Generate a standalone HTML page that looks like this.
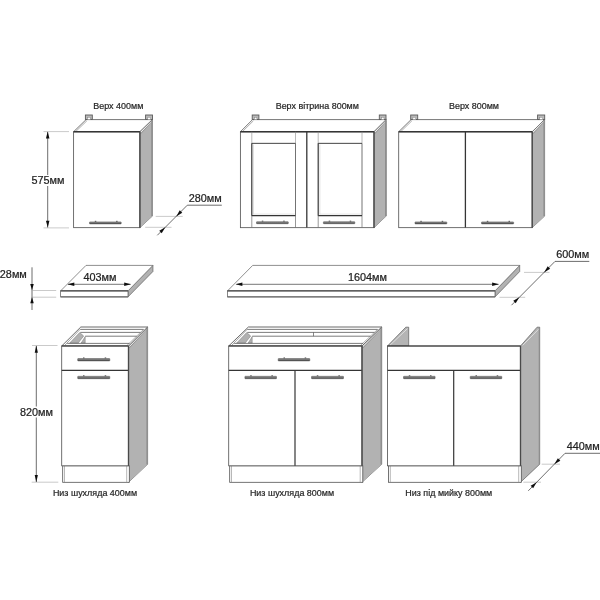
<!DOCTYPE html>
<html lang="uk">
<head>
<meta charset="utf-8">
<title>Кухня — розміри модулів</title>
<style>
html,body{margin:0;padding:0;background:#fff;}
body{width:600px;height:600px;overflow:hidden;}
svg{display:block;}
svg text{font-family:"Liberation Sans",sans-serif;}
</style>
</head>
<body>
<svg width="600" height="600" viewBox="0 0 600 600">
<defs>
<linearGradient id="gh" x1="0" y1="0" x2="0" y2="1">
<stop offset="0" stop-color="#9a9a9a"/><stop offset="0.55" stop-color="#6c6c6c"/><stop offset="1" stop-color="#4a4a4a"/>
</linearGradient>
<filter id="soft" x="0" y="0" width="600" height="600" filterUnits="userSpaceOnUse"><feGaussianBlur stdDeviation="0.36"/></filter>
</defs>
<rect x="0" y="0" width="600" height="600" fill="#fff"/>
<g filter="url(#soft)">
<rect x="0" y="0" width="600" height="600" fill="#fff"/>
<polygon points="73.6,131.75 86.1,119.6 152.4,119.6 139.9,131.75" fill="#fff" stroke="#525252" stroke-width="0.8" stroke-linejoin="round"/>
<line x1="75.5" y1="131.75" x2="86.9" y2="120.8" stroke="#777" stroke-width="0.6"/>
<polygon points="139.9,131.75 152.4,119.6 152.4,216 139.9,227.65" fill="#ececec" stroke="#6a6a6a" stroke-width="0.8" stroke-linejoin="round"/>
<polygon points="139.9,133.85 152.4,121.7 152.4,216 139.9,227.65" fill="#b2b2b2" />
<line x1="140.5" y1="133.85" x2="151.9" y2="121.7" stroke="#808080" stroke-width="0.7"/>
<line x1="151.95" y1="120.6" x2="151.95" y2="216.3" stroke="#8e8e8e" stroke-width="1.5"/>
<rect x="73.6" y="131.75" width="66.3" height="95.9" fill="#fff" stroke="#585858" stroke-width="0.85"/>
<line x1="73.6" y1="131.75" x2="139.9" y2="131.75" stroke="#353535" stroke-width="1.5"/>
<line x1="139.9" y1="131.75" x2="139.9" y2="227.65" stroke="#484848" stroke-width="1.35"/>
<rect x="85.4" y="115" width="6.9" height="4.5" fill="#b8b8b8" stroke="#5a5a5a" stroke-width="0.9"/>
<rect x="87.6" y="117.4" width="2.7" height="2.2" fill="#fff" stroke="#777" stroke-width="0.4"/>
<rect x="145.6" y="115" width="6.9" height="4.5" fill="#b8b8b8" stroke="#5a5a5a" stroke-width="0.9"/>
<rect x="147.8" y="117.4" width="2.7" height="2.2" fill="#fff" stroke="#777" stroke-width="0.4"/>
<rect x="89.5" y="221.9" width="31.7" height="2" rx="0.4" fill="url(#gh)" stroke="#4a4a4a" stroke-width="0.5"/>
<rect x="94.8" y="220.8" width="1.5" height="1.2" fill="#666"/>
<rect x="116.1" y="220.8" width="1.5" height="1.2" fill="#666"/>
<text x="118.3" y="108.5" font-size="9.6" text-anchor="middle" fill="#262626" stroke="#262626" stroke-width="0.22" textLength="50.02" lengthAdjust="spacingAndGlyphs">Верх 400мм</text>
<line x1="43.5" y1="131.6" x2="69" y2="131.6" stroke="#a6a6a6" stroke-width="0.6"/>
<line x1="43.5" y1="227.9" x2="69" y2="227.9" stroke="#a6a6a6" stroke-width="0.6"/>
<line x1="47.7" y1="132" x2="47.7" y2="175" stroke="#484848" stroke-width="0.8"/>
<line x1="47.7" y1="186" x2="47.7" y2="227.5" stroke="#484848" stroke-width="0.8"/>
<polygon points="47.7,131.6 49.45,138.4 45.95,138.4" fill="#111"/>
<polygon points="47.7,227.6 45.95,220.8 49.45,220.8" fill="#111"/>
<text x="48" y="184" font-size="10.85" text-anchor="middle" fill="#222" stroke="#222" stroke-width="0.22">575мм</text>
<line x1="155.7" y1="216.4" x2="182.7" y2="216.4" stroke="#a6a6a6" stroke-width="0.6"/>
<line x1="145.2" y1="227.3" x2="171.5" y2="227.3" stroke="#a6a6a6" stroke-width="0.6"/>
<line x1="157.3" y1="235.3" x2="187.3" y2="205.2" stroke="#484848" stroke-width="0.8"/>
<line x1="187.3" y1="205.2" x2="221.8" y2="205.2" stroke="#484848" stroke-width="0.8"/>
<polygon points="176.2,216.4 179.77,210.35 182.25,212.83" fill="#111"/>
<polygon points="165.3,227.3 161.73,233.35 159.25,230.87" fill="#111"/>
<text x="205.2" y="201.8" font-size="10.85" text-anchor="middle" fill="#222" stroke="#222" stroke-width="0.22">280мм</text>
<polygon points="240.4,131.75 252.6,119.6 386.2,119.6 374,131.75" fill="#fff" stroke="#525252" stroke-width="0.8" stroke-linejoin="round"/>
<line x1="242.3" y1="131.75" x2="253.4" y2="120.8" stroke="#777" stroke-width="0.6"/>
<polygon points="374,131.75 386.2,119.6 386.2,216 374,227.65" fill="#ececec" stroke="#6a6a6a" stroke-width="0.8" stroke-linejoin="round"/>
<polygon points="374,133.85 386.2,121.7 386.2,216 374,227.65" fill="#b2b2b2" />
<line x1="374.6" y1="133.85" x2="385.7" y2="121.7" stroke="#808080" stroke-width="0.7"/>
<line x1="385.75" y1="120.6" x2="385.75" y2="216.3" stroke="#8e8e8e" stroke-width="1.5"/>
<rect x="240.4" y="131.75" width="133.6" height="95.9" fill="#fff" stroke="#585858" stroke-width="0.85"/>
<line x1="240.4" y1="131.75" x2="374" y2="131.75" stroke="#353535" stroke-width="1.5"/>
<line x1="374" y1="131.75" x2="374" y2="227.65" stroke="#484848" stroke-width="1.35"/>
<rect x="252.2" y="115" width="6.7" height="4.5" fill="#b8b8b8" stroke="#5a5a5a" stroke-width="0.9"/>
<rect x="254.4" y="117.4" width="2.5" height="2.2" fill="#fff" stroke="#777" stroke-width="0.4"/>
<rect x="379.3" y="115" width="6.7" height="4.5" fill="#b8b8b8" stroke="#5a5a5a" stroke-width="0.9"/>
<rect x="381.5" y="117.4" width="2.5" height="2.2" fill="#fff" stroke="#777" stroke-width="0.4"/>
<line x1="251.8" y1="131.75" x2="251.8" y2="143.35" stroke="#8a8a8a" stroke-width="0.6"/>
<line x1="251.8" y1="215.7" x2="251.8" y2="227.5" stroke="#6a6a6a" stroke-width="0.7"/>
<line x1="295.5" y1="131.75" x2="295.5" y2="143.35" stroke="#8a8a8a" stroke-width="0.6"/>
<line x1="295.5" y1="215.7" x2="295.5" y2="227.5" stroke="#6a6a6a" stroke-width="0.7"/>
<line x1="295.5" y1="143.35" x2="295.5" y2="215.7" stroke="#5a5a5a" stroke-width="0.85"/>
<line x1="253.5" y1="144.55" x2="253.5" y2="214.5" stroke="#cccccc" stroke-width="0.6"/>
<line x1="253.5" y1="214.1" x2="294.7" y2="214.1" stroke="#d4d4d4" stroke-width="0.6"/>
<line x1="251.8" y1="143.35" x2="295.5" y2="143.35" stroke="#444" stroke-width="1.0"/>
<line x1="251.8" y1="215.7" x2="295.5" y2="215.7" stroke="#353535" stroke-width="1.2"/>
<line x1="251.8" y1="143.35" x2="251.8" y2="215.7" stroke="#353535" stroke-width="1.2"/>
<rect x="256.5" y="221.7" width="31.8" height="2" rx="0.4" fill="url(#gh)" stroke="#4a4a4a" stroke-width="0.5"/>
<rect x="261.8" y="220.6" width="1.5" height="1.2" fill="#666"/>
<rect x="283.2" y="220.6" width="1.5" height="1.2" fill="#666"/>
<line x1="318.2" y1="131.75" x2="318.2" y2="143.35" stroke="#8a8a8a" stroke-width="0.6"/>
<line x1="318.2" y1="215.7" x2="318.2" y2="227.5" stroke="#6a6a6a" stroke-width="0.7"/>
<line x1="362" y1="131.75" x2="362" y2="143.35" stroke="#8a8a8a" stroke-width="0.6"/>
<line x1="362" y1="215.7" x2="362" y2="227.5" stroke="#6a6a6a" stroke-width="0.7"/>
<line x1="362" y1="143.35" x2="362" y2="215.7" stroke="#5a5a5a" stroke-width="0.85"/>
<line x1="319.9" y1="144.55" x2="319.9" y2="214.5" stroke="#cccccc" stroke-width="0.6"/>
<line x1="319.9" y1="214.1" x2="361.2" y2="214.1" stroke="#d4d4d4" stroke-width="0.6"/>
<line x1="318.2" y1="143.35" x2="362" y2="143.35" stroke="#444" stroke-width="1.0"/>
<line x1="318.2" y1="215.7" x2="362" y2="215.7" stroke="#353535" stroke-width="1.2"/>
<line x1="318.2" y1="143.35" x2="318.2" y2="215.7" stroke="#353535" stroke-width="1.2"/>
<rect x="323.4" y="221.7" width="31.4" height="2" rx="0.4" fill="url(#gh)" stroke="#4a4a4a" stroke-width="0.5"/>
<rect x="328.7" y="220.6" width="1.5" height="1.2" fill="#666"/>
<rect x="349.7" y="220.6" width="1.5" height="1.2" fill="#666"/>
<line x1="306.8" y1="131.7" x2="306.8" y2="227.5" stroke="#353535" stroke-width="1.3"/>
<text x="317.3" y="108.5" font-size="9.6" text-anchor="middle" fill="#262626" stroke="#262626" stroke-width="0.22" textLength="83.25" lengthAdjust="spacingAndGlyphs">Верх вітрина 800мм</text>
<polygon points="398.7,131.75 411.1,119.6 544.6,119.6 532.2,131.75" fill="#fff" stroke="#525252" stroke-width="0.8" stroke-linejoin="round"/>
<line x1="400.6" y1="131.75" x2="411.9" y2="120.8" stroke="#777" stroke-width="0.6"/>
<polygon points="532.2,131.75 544.6,119.6 544.6,216 532.2,227.65" fill="#ececec" stroke="#6a6a6a" stroke-width="0.8" stroke-linejoin="round"/>
<polygon points="532.2,133.85 544.6,121.7 544.6,216 532.2,227.65" fill="#b2b2b2" />
<line x1="532.8" y1="133.85" x2="544.1" y2="121.7" stroke="#808080" stroke-width="0.7"/>
<line x1="544.15" y1="120.6" x2="544.15" y2="216.3" stroke="#8e8e8e" stroke-width="1.5"/>
<rect x="398.7" y="131.75" width="133.5" height="95.9" fill="#fff" stroke="#585858" stroke-width="0.85"/>
<line x1="398.7" y1="131.75" x2="532.2" y2="131.75" stroke="#353535" stroke-width="1.5"/>
<line x1="532.2" y1="131.75" x2="532.2" y2="227.65" stroke="#484848" stroke-width="1.35"/>
<rect x="410.7" y="115" width="7" height="4.5" fill="#b8b8b8" stroke="#5a5a5a" stroke-width="0.9"/>
<rect x="412.9" y="117.4" width="2.8" height="2.2" fill="#fff" stroke="#777" stroke-width="0.4"/>
<rect x="537.6" y="115" width="7.1" height="4.5" fill="#b8b8b8" stroke="#5a5a5a" stroke-width="0.9"/>
<rect x="539.8" y="117.4" width="2.9" height="2.2" fill="#fff" stroke="#777" stroke-width="0.4"/>
<line x1="465.4" y1="131.7" x2="465.4" y2="227.5" stroke="#353535" stroke-width="1.3"/>
<rect x="415" y="221.9" width="31.8" height="2" rx="0.4" fill="url(#gh)" stroke="#4a4a4a" stroke-width="0.5"/>
<rect x="420.3" y="220.8" width="1.5" height="1.2" fill="#666"/>
<rect x="441.7" y="220.8" width="1.5" height="1.2" fill="#666"/>
<rect x="481.5" y="221.9" width="32.1" height="2" rx="0.4" fill="url(#gh)" stroke="#4a4a4a" stroke-width="0.5"/>
<rect x="486.8" y="220.8" width="1.5" height="1.2" fill="#666"/>
<rect x="508.5" y="220.8" width="1.5" height="1.2" fill="#666"/>
<text x="474" y="108.5" font-size="9.6" text-anchor="middle" fill="#262626" stroke="#262626" stroke-width="0.22" textLength="50.02" lengthAdjust="spacingAndGlyphs">Верх 800мм</text>
<polygon points="128,290.9 152.9,265.4 152.9,271.5 128,296.85" fill="#b2b2b2" stroke="#6a6a6a" stroke-width="0.8" stroke-linejoin="round"/>
<polygon points="60.6,290.9 86,265.4 152.9,265.4 128,290.9" fill="#fff" stroke="#6a6a6a" stroke-width="0.75" stroke-linejoin="round"/>
<rect x="60.6" y="290.9" width="67.4" height="5.95" fill="#fff" stroke="#6a6a6a" stroke-width="0.8"/>
<line x1="60.6" y1="290.9" x2="128" y2="290.9" stroke="#505050" stroke-width="1.3"/>
<line x1="60.6" y1="296.85" x2="128" y2="296.85" stroke="#707070" stroke-width="1.3"/>
<line x1="68" y1="284.3" x2="130.5" y2="284.3" stroke="#484848" stroke-width="0.75"/>
<polygon points="67.5,284.3 74.3,282.55 74.3,286.05" fill="#111"/>
<polygon points="131,284.3 124.2,286.05 124.2,282.55" fill="#111"/>
<text x="99.9" y="281.4" font-size="10.85" text-anchor="middle" fill="#222" stroke="#222" stroke-width="0.22">403мм</text>
<line x1="32" y1="267.3" x2="32" y2="310" stroke="#484848" stroke-width="0.8"/>
<line x1="32" y1="290.5" x2="56.2" y2="290.5" stroke="#a6a6a6" stroke-width="0.6"/>
<line x1="32" y1="297.2" x2="56.2" y2="297.2" stroke="#a6a6a6" stroke-width="0.6"/>
<polygon points="32,290.3 30.25,283.9 33.75,283.9" fill="#111"/>
<polygon points="32,296.9 33.75,303.3 30.25,303.3" fill="#111"/>
<text x="26.8" y="278.4" font-size="10.85" text-anchor="end" fill="#222" stroke="#222" stroke-width="0.22">28мм</text>
<polygon points="495,290.9 519.7,265.4 519.7,271.5 495,296.85" fill="#b2b2b2" stroke="#6a6a6a" stroke-width="0.8" stroke-linejoin="round"/>
<polygon points="227.5,290.9 252.7,265.4 519.7,265.4 495,290.9" fill="#fff" stroke="#6a6a6a" stroke-width="0.75" stroke-linejoin="round"/>
<rect x="227.5" y="290.9" width="267.5" height="5.95" fill="#fff" stroke="#6a6a6a" stroke-width="0.8"/>
<line x1="227.5" y1="290.9" x2="495" y2="290.9" stroke="#505050" stroke-width="1.3"/>
<line x1="227.5" y1="296.85" x2="495" y2="296.85" stroke="#707070" stroke-width="1.3"/>
<line x1="236.5" y1="284.3" x2="498.5" y2="284.3" stroke="#484848" stroke-width="0.75"/>
<polygon points="235.6,284.3 242.4,282.55 242.4,286.05" fill="#111"/>
<polygon points="498.9,284.3 492.1,286.05 492.1,282.55" fill="#111"/>
<text x="367.5" y="281.4" font-size="10.85" text-anchor="middle" fill="#222" stroke="#222" stroke-width="0.22">1604мм</text>
<line x1="524" y1="272.4" x2="549.5" y2="272.4" stroke="#a6a6a6" stroke-width="0.6"/>
<line x1="499.5" y1="297.3" x2="525.2" y2="297.3" stroke="#a6a6a6" stroke-width="0.6"/>
<line x1="511.5" y1="305.2" x2="555" y2="261.4" stroke="#484848" stroke-width="0.8"/>
<line x1="555" y1="261.4" x2="589.3" y2="261.4" stroke="#484848" stroke-width="0.8"/>
<polygon points="544.1,272.4 547.67,266.35 550.15,268.83" fill="#111"/>
<polygon points="519.3,297.3 515.73,303.35 513.25,300.87" fill="#111"/>
<text x="572.7" y="257.8" font-size="10.85" text-anchor="middle" fill="#222" stroke="#222" stroke-width="0.22">600мм</text>
<polygon points="128.5,346 147.6,327 147.6,464.2 128.5,482.3" fill="#ececec" stroke="#6a6a6a" stroke-width="0.8" stroke-linejoin="round"/>
<polygon points="128.5,348.1 147.6,329.1 147.6,464.2 128.5,482.3" fill="#b2b2b2" />
<line x1="129.1" y1="348.1" x2="147.1" y2="329.1" stroke="#808080" stroke-width="0.7"/>
<line x1="147.15" y1="328" x2="147.15" y2="464.5" stroke="#8e8e8e" stroke-width="1.5"/>
<polygon points="61.7,346 80.8,327 147.6,327 128.5,346" fill="#fff" stroke="#5a5a5a" stroke-width="0.9" stroke-linejoin="round"/>
<polygon points="69.7,343 79.7,332.5 83.7,336 78.2,343" fill="#b0b0b0" stroke="#777" stroke-width="0.5" stroke-linejoin="round"/>
<polygon points="81.2,343 85.2,336.6 85.2,343" fill="#b0b0b0" stroke="#777" stroke-width="0.5" stroke-linejoin="round"/>
<line x1="64.7" y1="345.4" x2="80.3" y2="329.2" stroke="#6a6a6a" stroke-width="0.6"/>
<line x1="126.9" y1="345.6" x2="143.59" y2="329.4" stroke="#777" stroke-width="0.6"/>
<line x1="80.3" y1="329.4" x2="143.59" y2="329.4" stroke="#5a5a5a" stroke-width="0.8"/>
<line x1="80.3" y1="332.4" x2="140.57" y2="332.4" stroke="#5a5a5a" stroke-width="0.8"/>
<line x1="85.2" y1="336.2" x2="136.75" y2="336.2" stroke="#5a5a5a" stroke-width="0.8"/>
<line x1="67.2" y1="343.4" x2="129.51" y2="343.4" stroke="#5a5a5a" stroke-width="0.8"/>
<rect x="62.7" y="465.8" width="66.6" height="16.5" fill="#fff" stroke="#525252" stroke-width="0.8"/>
<line x1="126.7" y1="465.8" x2="126.7" y2="482.3" stroke="#888" stroke-width="0.6"/>
<line x1="64.5" y1="465.8" x2="64.5" y2="482.3" stroke="#888" stroke-width="0.6"/>
<rect x="61.7" y="346" width="66.8" height="119.8" fill="#fff" stroke="#585858" stroke-width="0.85"/>
<line x1="61.7" y1="370.4" x2="128.5" y2="370.4" stroke="#353535" stroke-width="1.2"/>
<line x1="61.7" y1="346" x2="128.5" y2="346" stroke="#353535" stroke-width="1.1"/>
<line x1="128.5" y1="346" x2="128.5" y2="465.8" stroke="#484848" stroke-width="1.35"/>
<rect x="77.7" y="358.5" width="32.1" height="2.4" rx="0.4" fill="url(#gh)" stroke="#4a4a4a" stroke-width="0.5"/>
<rect x="83" y="357.4" width="1.5" height="1.2" fill="#666"/>
<rect x="104.7" y="357.4" width="1.5" height="1.2" fill="#666"/>
<rect x="77.7" y="376.3" width="32.1" height="2.4" rx="0.4" fill="url(#gh)" stroke="#4a4a4a" stroke-width="0.5"/>
<rect x="83" y="375.2" width="1.5" height="1.2" fill="#666"/>
<rect x="104.7" y="375.2" width="1.5" height="1.2" fill="#666"/>
<text x="95" y="495.6" font-size="9.6" text-anchor="middle" fill="#262626" stroke="#262626" stroke-width="0.22" textLength="84.18" lengthAdjust="spacingAndGlyphs">Низ шухляда 400мм</text>
<line x1="32" y1="345.5" x2="57.5" y2="345.5" stroke="#a6a6a6" stroke-width="0.6"/>
<line x1="31.7" y1="482.2" x2="58.3" y2="482.2" stroke="#a6a6a6" stroke-width="0.6"/>
<line x1="36.3" y1="346" x2="36.3" y2="406.5" stroke="#484848" stroke-width="0.8"/>
<line x1="36.3" y1="417.5" x2="36.3" y2="482" stroke="#484848" stroke-width="0.8"/>
<polygon points="36.3,345.5 37.9,352.7 34.7,352.7" fill="#111"/>
<polygon points="36.3,482.2 34.7,475 37.9,475" fill="#111"/>
<text x="36.5" y="415.8" font-size="10.85" text-anchor="middle" fill="#222" stroke="#222" stroke-width="0.22">820мм</text>
<polygon points="362,346 381.7,327 381.7,464.2 362,482.3" fill="#ececec" stroke="#6a6a6a" stroke-width="0.8" stroke-linejoin="round"/>
<polygon points="362,348.1 381.7,329.1 381.7,464.2 362,482.3" fill="#b2b2b2" />
<line x1="362.6" y1="348.1" x2="381.2" y2="329.1" stroke="#808080" stroke-width="0.7"/>
<line x1="381.25" y1="328" x2="381.25" y2="464.5" stroke="#8e8e8e" stroke-width="1.5"/>
<polygon points="228.7,346 248.4,327 381.7,327 362,346" fill="#fff" stroke="#5a5a5a" stroke-width="0.9" stroke-linejoin="round"/>
<polygon points="236.7,343 246.7,332.5 250.7,336 245.2,343" fill="#b0b0b0" stroke="#777" stroke-width="0.5" stroke-linejoin="round"/>
<polygon points="248.2,343 252.2,336.6 252.2,343" fill="#b0b0b0" stroke="#777" stroke-width="0.5" stroke-linejoin="round"/>
<line x1="231.7" y1="345.4" x2="247.3" y2="329.2" stroke="#6a6a6a" stroke-width="0.6"/>
<line x1="360.4" y1="345.6" x2="377.61" y2="329.4" stroke="#777" stroke-width="0.6"/>
<line x1="247.3" y1="329.4" x2="377.61" y2="329.4" stroke="#5a5a5a" stroke-width="0.8"/>
<line x1="247.3" y1="332.4" x2="374.5" y2="332.4" stroke="#5a5a5a" stroke-width="0.8"/>
<line x1="252.2" y1="336.2" x2="370.56" y2="336.2" stroke="#5a5a5a" stroke-width="0.8"/>
<line x1="234.2" y1="343.4" x2="363.1" y2="343.4" stroke="#5a5a5a" stroke-width="0.8"/>
<line x1="313.5" y1="332.4" x2="313.5" y2="336.2" stroke="#555" stroke-width="0.7"/>
<rect x="229.7" y="465.8" width="133.1" height="16.5" fill="#fff" stroke="#525252" stroke-width="0.8"/>
<line x1="360.2" y1="465.8" x2="360.2" y2="482.3" stroke="#888" stroke-width="0.6"/>
<line x1="231.5" y1="465.8" x2="231.5" y2="482.3" stroke="#888" stroke-width="0.6"/>
<rect x="228.7" y="346" width="133.3" height="119.8" fill="#fff" stroke="#585858" stroke-width="0.85"/>
<line x1="228.7" y1="370.4" x2="362" y2="370.4" stroke="#353535" stroke-width="1.2"/>
<line x1="295" y1="370.4" x2="295" y2="465.8" stroke="#353535" stroke-width="1.2"/>
<line x1="228.7" y1="346" x2="362" y2="346" stroke="#353535" stroke-width="1.1"/>
<line x1="362" y1="346" x2="362" y2="465.8" stroke="#484848" stroke-width="1.35"/>
<rect x="278.2" y="358.5" width="31.6" height="2.4" rx="0.4" fill="url(#gh)" stroke="#4a4a4a" stroke-width="0.5"/>
<rect x="283.5" y="357.4" width="1.5" height="1.2" fill="#666"/>
<rect x="304.7" y="357.4" width="1.5" height="1.2" fill="#666"/>
<rect x="244.9" y="376.3" width="31.6" height="2.4" rx="0.4" fill="url(#gh)" stroke="#4a4a4a" stroke-width="0.5"/>
<rect x="250.2" y="375.2" width="1.5" height="1.2" fill="#666"/>
<rect x="271.4" y="375.2" width="1.5" height="1.2" fill="#666"/>
<rect x="311.5" y="376.3" width="32" height="2.4" rx="0.4" fill="url(#gh)" stroke="#4a4a4a" stroke-width="0.5"/>
<rect x="316.8" y="375.2" width="1.5" height="1.2" fill="#666"/>
<rect x="338.4" y="375.2" width="1.5" height="1.2" fill="#666"/>
<text x="292" y="495.6" font-size="9.6" text-anchor="middle" fill="#262626" stroke="#262626" stroke-width="0.22" textLength="84.18" lengthAdjust="spacingAndGlyphs">Низ шухляда 800мм</text>
<polygon points="387.5,346 405.8,327.2 408.7,327.2 408.7,346" fill="#b4b4b4" stroke="#6a6a6a" stroke-width="0.8" stroke-linejoin="round"/>
<line x1="390.1" y1="345.1" x2="407.5" y2="328.6" stroke="#f0f0f0" stroke-width="0.7"/>
<polygon points="520.5,346 537.1,327.2 539.7,327.2 539.7,464.2 520.5,482.3" fill="#b2b2b2" stroke="#6a6a6a" stroke-width="0.8" stroke-linejoin="round"/>
<line x1="522.7" y1="345.4" x2="538.8" y2="329" stroke="#f0f0f0" stroke-width="0.7"/>
<line x1="539.3" y1="328" x2="539.3" y2="464.5" stroke="#8e8e8e" stroke-width="1.2"/>
<rect x="388.5" y="465.8" width="132.8" height="16.5" fill="#fff" stroke="#525252" stroke-width="0.8"/>
<line x1="518.7" y1="465.8" x2="518.7" y2="482.3" stroke="#888" stroke-width="0.6"/>
<line x1="390.3" y1="465.8" x2="390.3" y2="482.3" stroke="#888" stroke-width="0.6"/>
<rect x="387.5" y="346" width="133" height="119.8" fill="#fff" stroke="#585858" stroke-width="0.85"/>
<line x1="387.5" y1="370.4" x2="520.5" y2="370.4" stroke="#353535" stroke-width="1.2"/>
<line x1="453.7" y1="370.4" x2="453.7" y2="465.8" stroke="#353535" stroke-width="1.2"/>
<line x1="387.5" y1="346" x2="520.5" y2="346" stroke="#353535" stroke-width="1.1"/>
<line x1="520.5" y1="346" x2="520.5" y2="465.8" stroke="#484848" stroke-width="1.35"/>
<rect x="403.5" y="376.3" width="31.6" height="2.4" rx="0.4" fill="url(#gh)" stroke="#4a4a4a" stroke-width="0.5"/>
<rect x="408.8" y="375.2" width="1.5" height="1.2" fill="#666"/>
<rect x="430" y="375.2" width="1.5" height="1.2" fill="#666"/>
<rect x="470.2" y="376.3" width="31.6" height="2.4" rx="0.4" fill="url(#gh)" stroke="#4a4a4a" stroke-width="0.5"/>
<rect x="475.5" y="375.2" width="1.5" height="1.2" fill="#666"/>
<rect x="496.7" y="375.2" width="1.5" height="1.2" fill="#666"/>
<text x="448.8" y="495.6" font-size="9.6" text-anchor="middle" fill="#262626" stroke="#262626" stroke-width="0.22" textLength="86.97" lengthAdjust="spacingAndGlyphs">Низ під мийку 800мм</text>
<line x1="541.7" y1="464.2" x2="560" y2="464.2" stroke="#a6a6a6" stroke-width="0.6"/>
<line x1="523.3" y1="482.2" x2="541" y2="482.2" stroke="#a6a6a6" stroke-width="0.6"/>
<line x1="528.3" y1="490.8" x2="565" y2="453.3" stroke="#484848" stroke-width="0.8"/>
<line x1="565" y1="453.3" x2="600" y2="453.3" stroke="#484848" stroke-width="0.8"/>
<polygon points="554.3,464.2 557.87,458.15 560.35,460.63" fill="#111"/>
<polygon points="536.7,482.2 533.13,488.25 530.65,485.77" fill="#111"/>
<text x="566.7" y="449.7" font-size="10.85" text-anchor="start" fill="#222" stroke="#222" stroke-width="0.22">440мм</text>
</g>
</svg>
</body>
</html>
